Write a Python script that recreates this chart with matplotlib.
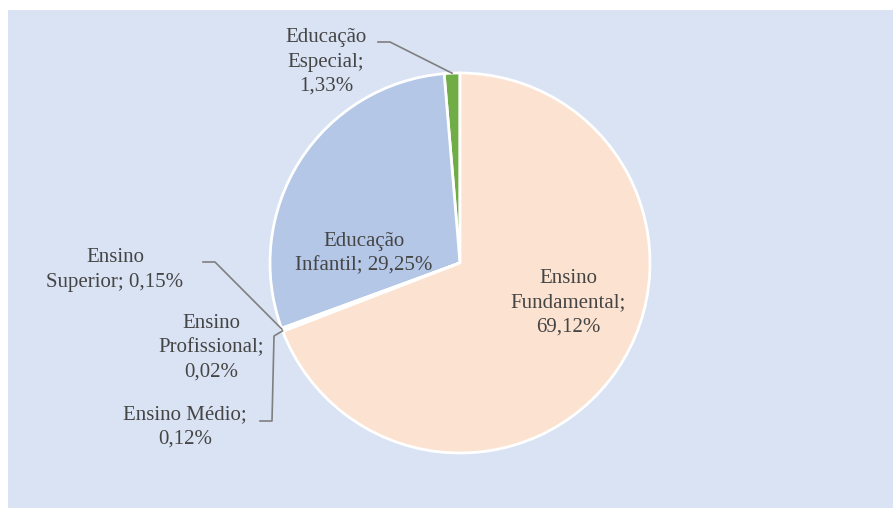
import numpy as np
import matplotlib
matplotlib.use("Agg")
import matplotlib.pyplot as plt
from matplotlib.patches import Rectangle

# ---- data ----
categories = ["Educação Especial", "Educação Infantil", "Ensino Superior",
              "Ensino Profissional", "Ensino Médio", "Ensino Fundamental"]
values = [1.33, 29.25, 0.15, 0.02, 0.12, 69.12]
labels = ["Educação\nEspecial;\n1,33%", "Educação\nInfantil; 29,25%",
          "Ensino\nSuperior; 0,15%", "Ensino\nProfissional;\n0,02%",
          "Ensino Médio;\n0,12%", "Ensino\nFundamental;\n69,12%"]
colors = ["#70ad47", "#b4c7e7", "#a5a5a5", "#ffc000", "#5b9bd5", "#fce2d0"]

W, H = 893, 508
fig = plt.figure(figsize=(W / 100, H / 100), dpi=100, facecolor="white")

ax = fig.add_axes([0, 0, 1, 1])
ax.set_facecolor("none")
# chart area background
ax.add_patch(Rectangle((8, 0), W - 8, H - 10, facecolor="#dae3f3",
                       edgecolor="none", zorder=-5))

cx, cy, R = 460, H - 263, 190
wedges, _ = ax.pie(values, colors=colors, startangle=90, counterclock=True,
                   center=(cx, cy), radius=R,
                   wedgeprops=dict(edgecolor="white", linewidth=2),
                   frame=True)
ax.set_xlim(0, W)
ax.set_ylim(0, H)
ax.set_aspect("auto")
ax.axis("off")

txt_kw = dict(fontsize=15, color="#454545", ha="center", va="center",
              family=["Liberation Serif", "DejaVu Serif"], linespacing=1.38)

# label centres (pixel layout, y from top)
label_pos = {
    0: (326, 62),
    1: (364, 254),
    2: (115, 270),
    3: (211, 348),
    4: (185, 427),
    5: (568, 303),
}
for i, (x, y) in label_pos.items():
    ax.text(x, H - y, labels[i], **txt_kw)

def edge_point(i):
    w = wedges[i]
    ang = np.deg2rad((w.theta1 + w.theta2) / 2)
    return cx + R * np.cos(ang), cy + R * np.sin(ang)

line_kw = dict(color="#7f7f7f", lw=1.2, zorder=5)
# Especial leader
ex, ey = edge_point(0)
ax.plot([378, 390, ex], [H - 42, H - 42, ey], **line_kw)
# Superior leader
ex, ey = edge_point(2)
ax.plot([203, 215, ex], [H - 262, H - 262, ey], **line_kw)
# Medio leader
ex, ey = edge_point(4)
ax.plot([260, 272, 274, ex], [H - 421, H - 421, H - 336, ey], **line_kw)

fig.savefig("out.png", dpi=100, facecolor="white")
